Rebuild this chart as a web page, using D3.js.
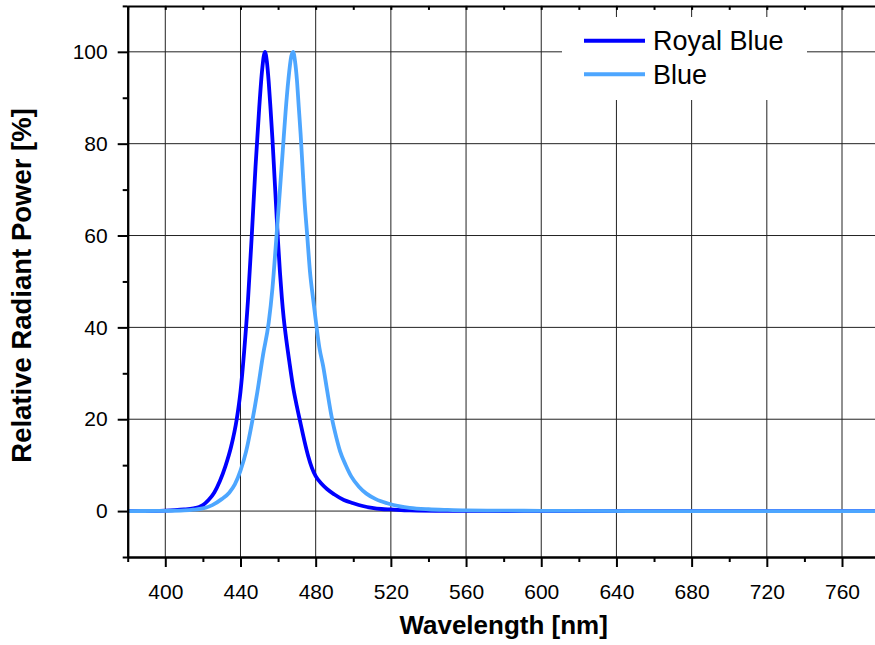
<!DOCTYPE html>
<html>
<head>
<meta charset="utf-8">
<script src="https://cdn.jsdelivr.net/npm/d3@7/dist/d3.min.js"></script>
<style>
  html, body { margin: 0; padding: 0; background: #fff; }
  svg { display: block; font-family: "Liberation Sans", Arial, sans-serif; }
</style>
</head>
<body>
<svg id="chart" width="875" height="645"></svg>
<script>
// ---- data ----
const seriesNames = ["Royal Blue", "Blue"];
const seriesColors = ["#0000ff", "#4da6ff"];

const royalWl = [380, 390, 400, 405, 410, 415, 418, 420, 423, 426, 429, 432, 435, 438, 440, 442, 444, 446, 448, 450, 451.5, 453, 454, 455, 456, 457, 458, 459, 460, 461, 462, 463, 464, 466, 468, 470, 472, 474, 476, 478, 480, 483, 486, 490, 495, 500, 505, 510, 515, 520, 530, 550, 600, 700, 780];
const royalVal = [0, 0, 0.1, 0.2, 0.35, 0.6, 0.9, 1.3, 2.4, 4, 6.5, 9.8, 14, 20, 26, 35, 46, 60, 75, 88, 96, 100, 98, 93.5, 87.5, 81, 73.5, 66, 58.5, 52, 46.5, 42, 38.5, 32.5, 27, 22.8, 19, 15.3, 12, 9.4, 7.6, 6.0, 4.8, 3.6, 2.4, 1.7, 1.1, 0.7, 0.45, 0.35, 0.15, 0.05, 0, 0, 0];

const blueWl = [380, 400, 410, 415, 420, 425, 430, 434, 437, 440, 443, 446, 449, 452, 455, 457, 459, 461, 462.5, 464, 465.5, 467, 468, 469, 470, 471, 472, 473, 474, 475.5, 477, 478.7, 480.5, 482, 484, 486, 488.5, 491, 493, 496, 499, 503, 507, 512, 518, 525, 530, 540, 550, 560, 580, 600, 650, 780];
const blueVal = [0, 0.05, 0.15, 0.3, 0.6, 1.3, 2.6, 4, 5.8, 8.8, 13, 19, 26, 34, 41, 48.5, 59, 70, 78.5, 87, 94, 99, 100, 98, 94, 88, 82, 75, 68, 60, 52, 46, 40, 35.5, 31.5, 26.5, 20.5, 16, 13, 10, 7.5, 5.3, 3.8, 2.6, 1.7, 1.0, 0.7, 0.4, 0.25, 0.15, 0.1, 0.05, 0, 0];

const xMajorTicks = [400, 440, 480, 520, 560, 600, 640, 680, 720, 760];
const xMinorTicks = [380, 420, 460, 500, 540, 580, 620, 660, 700, 740, 780];
const yMajorTicks = [0, 20, 40, 60, 80, 100];
const yMinorTicks = [-10, 10, 30, 50, 70, 90, 110];

const xTitle = "Wavelength [nm]";
const yTitle = "Relative Radiant Power [%]";

// ---- layout ----
const svg = d3.select("#chart");
const x = d3.scaleLinear().domain([380, 780]).range([127.7, 879.6]);
const y = d3.scaleLinear().domain([-10, 110]).range([557, 5.9]);
const pLeft = x(380), pRight = x(780), pTop = y(110), pBottom = y(-10);

// gridlines
const grid = svg.append("g").attr("stroke", "#222").attr("stroke-width", 1);
grid.selectAll("line.v").data(xMajorTicks).join("line").attr("class", "v")
  .attr("x1", d => x(d)).attr("x2", d => x(d)).attr("y1", pTop).attr("y2", pBottom);
grid.selectAll("line.h").data(yMajorTicks).join("line").attr("class", "h")
  .attr("x1", pLeft).attr("x2", pRight).attr("y1", d => y(d)).attr("y2", d => y(d));

// lines
const royal = royalWl.map((w, i) => [w, royalVal[i]]);
const blue = blueWl.map((w, i) => [w, blueVal[i]]);
const line = d3.line().x(d => x(d[0])).y(d => y(d[1])).curve(d3.curveMonotoneX);
[royal, blue].forEach((s, i) => {
  svg.append("path").datum(s).attr("d", line)
    .attr("fill", "none").attr("stroke", seriesColors[i])
    .attr("stroke-width", 3.8).attr("stroke-linejoin", "round");
});

// axes
function styleAxis(g) {
  g.select(".domain").attr("stroke", "#000").attr("stroke-width", 2);
  g.selectAll(".tick line").attr("stroke", "#000").attr("stroke-width", 2);
  g.selectAll(".tick text").attr("fill", "#000")
    .style("font-family", "'Liberation Sans', Arial, sans-serif").style("font-size", "21px");
}
svg.append("g").attr("transform", `translate(0,${pBottom})`)
  .call(d3.axisBottom(x).tickValues(xMajorTicks).tickSize(10).tickSizeOuter(0).tickPadding(17).tickFormat(d3.format("d")))
  .call(styleAxis);
svg.append("g").attr("transform", `translate(0,${pBottom})`)
  .call(d3.axisBottom(x).tickValues(xMinorTicks).tickSize(5).tickSizeOuter(0).tickFormat(""))
  .call(styleAxis);
svg.append("g").attr("transform", `translate(${pLeft},0)`)
  .call(d3.axisLeft(y).tickValues(yMajorTicks).tickSize(10).tickSizeOuter(0).tickPadding(10).tickFormat(d3.format("d")))
  .call(styleAxis);
svg.append("g").attr("transform", `translate(${pLeft},0)`)
  .call(d3.axisLeft(y).tickValues(yMinorTicks).tickSize(5).tickSizeOuter(0).tickFormat(""))
  .call(styleAxis);
// top border with inward ticks
svg.append("g").attr("transform", `translate(0,${pTop})`)
  .call(d3.axisTop(x).tickValues(xMinorTicks.concat(xMajorTicks)).tickSize(-4).tickSizeOuter(0).tickFormat(""))
  .call(styleAxis);

// axis titles
svg.append("text").attr("x", (pLeft + pRight) / 2).attr("y", 634)
  .attr("text-anchor", "middle").attr("font-weight", "bold").attr("font-size", 26)
  .attr("fill", "#000").text(xTitle);
svg.append("text").attr("transform", `translate(31,${(pTop + pBottom) / 2 + 4}) rotate(-90)`)
  .attr("text-anchor", "middle").attr("font-weight", "bold").attr("font-size", 27.5)
  .attr("fill", "#000").text(yTitle);

// legend
const lg = svg.append("g");
lg.append("rect").attr("x", 562).attr("y", 17).attr("width", 245).attr("height", 83).attr("fill", "#fff");
const legendY = [40.7, 74.3];
seriesNames.forEach((n, i) => {
  lg.append("line").attr("x1", 584).attr("x2", 645).attr("y1", legendY[i]).attr("y2", legendY[i])
    .attr("stroke", seriesColors[i]).attr("stroke-width", 4);
  lg.append("text").attr("x", 653).attr("y", legendY[i] + 9.5)
    .attr("font-size", 27).attr("fill", "#000").text(n);
});
</script>
</body>
</html>
